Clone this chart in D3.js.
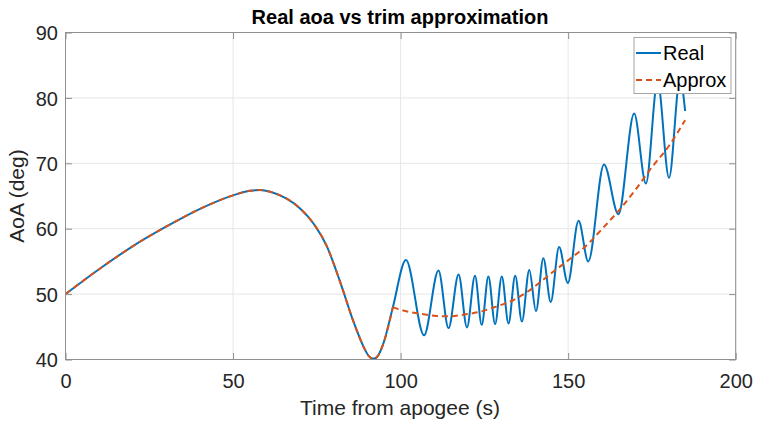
<!DOCTYPE html>
<html>
<head>
<meta charset="utf-8">
<script src="https://cdn.jsdelivr.net/npm/d3@7"></script>
<style>
  html, body { margin: 0; padding: 0; background: #fff; }
  svg { display: block; font-family: "Liberation Sans", Arial, Helvetica, sans-serif; }
</style>
</head>
<body>
<svg id="chart" width="768" height="421"></svg>
<script>
// Angle of attack history shared by both series until the trim approximation departs
const sharedTime = [0, 10, 20, 30, 40, 50, 55, 58, 62, 66, 70, 74, 78, 82, 86, 89, 90.4, 91.9, 93.4, 94.9, 97.7];
const sharedAoA  = [50.0, 53.8, 57.3, 60.3, 63.0, 65.1, 65.8, 65.9, 65.5, 64.6, 63.1, 60.8, 57.3, 51.8, 45.7, 41.9, 40.6, 40.1, 40.7, 42.5, 48.0];

// Real AoA after departure (oscillation peaks and troughs)
const realTailTime = [101.6, 107.0, 111.3, 114.3, 117.3, 119.8, 122.2, 124.2, 126.2, 128.2, 130.2, 132.2, 134.2, 136.2,
                      138.4, 140.4, 142.6, 144.8, 147.3, 149.9, 153.1, 156.0, 160.7, 165.0, 169.7, 173.2, 176.7, 180.1, 183.4, 184.9];
const realTailAoA  = [55.2, 43.7, 53.6, 44.8, 53.0, 44.9, 52.8, 45.3, 52.7, 45.4, 52.7, 45.5, 52.8, 45.8,
                      53.7, 47.4, 55.5, 48.8, 57.2, 51.7, 61.2, 55.0, 69.8, 62.2, 77.6, 66.9, 82.5, 67.8, 83.0, 78.0];

// Trim approximation after departure
const approxTailTime = [100, 105.8, 110, 114, 118, 123.7, 128, 133.7, 138, 141.6, 146, 150.6, 156.6, 160, 165, 170, 175, 180, 184.9];
const approxTailAoA  = [47.6, 47.0, 46.7, 46.6, 46.8, 47.3, 48.0, 49.1, 50.4, 51.8, 53.6, 55.4, 58.0, 59.9, 62.7, 65.9, 69.4, 72.6, 76.6];

const xTicks = [0, 50, 100, 150, 200];
const yTicks = [40, 50, 60, 70, 80, 90];
const seriesNames = ["Real", "Approx"];
const seriesColors = ["#0072BD", "#D95319"];
const titleText = "Real aoa vs trim approximation";
const xLabelText = "Time from apogee (s)";
const yLabelText = "AoA (deg)";

const svg = d3.select("#chart");
const plot = { left: 65.5, right: 735.7, top: 32.5, bottom: 359.5 };

const x = d3.scaleLinear().domain([0, 200]).range([plot.left, plot.right]);
const y = d3.scaleLinear().domain([40, 90]).range([plot.bottom, plot.top]);

const zip = (ts, vs) => ts.map((t, i) => [t, vs[i]]);
const shared = zip(sharedTime, sharedAoA);
const realPts = shared.concat(zip(realTailTime, realTailAoA));
const approxTail = [shared[shared.length - 1]].concat(zip(approxTailTime, approxTailAoA));

// grid
const grid = svg.append("g");
grid.selectAll("line.gx").data(xTicks).join("line")
  .attr("x1", d => x(d)).attr("x2", d => x(d))
  .attr("y1", plot.top).attr("y2", plot.bottom)
  .attr("stroke", "#e6e6e6").attr("stroke-width", 1);
grid.selectAll("line.gy").data(yTicks).join("line")
  .attr("x1", plot.left).attr("x2", plot.right)
  .attr("y1", d => y(d)).attr("y2", d => y(d))
  .attr("stroke", "#e6e6e6").attr("stroke-width", 1);

svg.append("clipPath").attr("id", "clip").append("rect")
  .attr("x", plot.left).attr("y", plot.top)
  .attr("width", plot.right - plot.left).attr("height", plot.bottom - plot.top);

const line = d3.line().x(d => x(d[0])).y(d => y(d[1])).curve(d3.curveMonotoneX);

const lines = svg.append("g").attr("clip-path", "url(#clip)");
lines.append("path")
  .attr("d", line(realPts))
  .attr("fill", "none").attr("stroke", seriesColors[0]).attr("stroke-width", 2);
lines.append("path")
  .attr("d", line(shared) + line(approxTail))
  .attr("fill", "none").attr("stroke", seriesColors[1]).attr("stroke-width", 2)
  .attr("stroke-dasharray", "6,4");

// axes box with inward ticks
const tickLen = 6.5;
const axisColor = "#8f8f8f";
const box = svg.append("g");
box.append("rect")
  .attr("x", plot.left).attr("y", plot.top)
  .attr("width", plot.right - plot.left).attr("height", plot.bottom - plot.top)
  .attr("fill", "none").attr("stroke", axisColor).attr("stroke-width", 1);

const xAxisB = d3.axisBottom(x).tickValues(xTicks).tickSizeInner(-tickLen).tickSizeOuter(0).tickPadding(12);
const gx = svg.append("g").attr("transform", `translate(0,${plot.bottom})`).call(xAxisB);
const xAxisT = d3.axisTop(x).tickValues(xTicks).tickSizeInner(-tickLen).tickSizeOuter(0).tickFormat("");
const gxt = svg.append("g").attr("transform", `translate(0,${plot.top})`).call(xAxisT);
const yAxisL = d3.axisLeft(y).tickValues(yTicks).tickSizeInner(-tickLen).tickSizeOuter(0).tickPadding(14);
const gy = svg.append("g").attr("transform", `translate(${plot.left},0)`).call(yAxisL);
const yAxisR = d3.axisRight(y).tickValues(yTicks).tickSizeInner(-tickLen).tickSizeOuter(0).tickFormat("");
const gyr = svg.append("g").attr("transform", `translate(${plot.right},0)`).call(yAxisR);

[gx, gxt, gy, gyr].forEach(g => {
  g.select(".domain").remove();
  g.selectAll(".tick line").attr("stroke", axisColor);
  g.selectAll(".tick text").attr("fill", "#262626").attr("font-size", 20)
    .attr("font-family", "Liberation Sans, Arial, sans-serif");
});
gx.selectAll(".tick text").attr("dy", "0.71em").attr("y", 14);
gy.selectAll(".tick text").attr("x", -7.5).attr("dy", "0.36em");

// title and labels
svg.append("text").attr("x", 400).attr("y", 24).attr("text-anchor", "middle")
  .attr("font-size", 20).attr("font-weight", "bold").attr("fill", "#000").text(titleText);
svg.append("text").attr("x", 400).attr("y", 415).attr("text-anchor", "middle")
  .attr("font-size", 21).attr("fill", "#262626").text(xLabelText);
svg.append("text").attr("transform", `translate(24,${(plot.top + plot.bottom) / 2}) rotate(-90)`)
  .attr("text-anchor", "middle").attr("font-size", 21).attr("fill", "#262626").text(yLabelText);

// legend
const lg = svg.append("g");
lg.append("rect").attr("x", 634).attr("y", 37.5).attr("width", 97).attr("height", 56)
  .attr("fill", "#fff").attr("stroke", "#a6a6a6").attr("stroke-width", 1);
seriesNames.forEach((name, i) => {
  const ly = 53 + i * 27;
  lg.append("line").attr("x1", 636).attr("x2", 661).attr("y1", ly).attr("y2", ly)
    .attr("stroke", seriesColors[i]).attr("stroke-width", 2)
    .attr("stroke-dasharray", i === 1 ? "6,4" : null);
  lg.append("text").attr("x", 663).attr("y", ly + 7).attr("font-size", 20)
    .attr("fill", "#000").text(name);
});
</script>
</body>
</html>
